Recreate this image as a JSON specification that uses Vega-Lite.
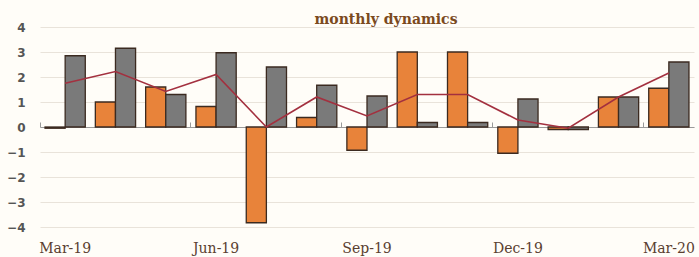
{
  "$schema": "https://vega.github.io/schema/vega-lite/v6.json",
  "autosize": {"type": "none"},
  "width": 654,
  "height": 200,
  "padding": {"left": 40, "top": 27, "right": 5, "bottom": 30},
  "background": "#fffdf8",
  "config": {"view": {"stroke": null}},
  "title": {
    "text": "monthly dynamics",
    "font": "DejaVu Serif",
    "fontSize": 14,
    "fontWeight": "bold",
    "color": "#7b4a1e",
    "anchor": "middle",
    "dx": 19,
    "offset": -6
  },
  "datasets": {
    "bars": [
      {"month": "Mar-19", "series": "A", "value": -0.05},
      {"month": "Mar-19", "series": "B", "value": 2.85},
      {"month": "Apr-19", "series": "A", "value": 1.0},
      {"month": "Apr-19", "series": "B", "value": 3.15},
      {"month": "May-19", "series": "A", "value": 1.6},
      {"month": "May-19", "series": "B", "value": 1.3},
      {"month": "Jun-19", "series": "A", "value": 0.82},
      {"month": "Jun-19", "series": "B", "value": 2.97},
      {"month": "Jul-19", "series": "A", "value": -3.83},
      {"month": "Jul-19", "series": "B", "value": 2.4},
      {"month": "Aug-19", "series": "A", "value": 0.38},
      {"month": "Aug-19", "series": "B", "value": 1.67},
      {"month": "Sep-19", "series": "A", "value": -0.93},
      {"month": "Sep-19", "series": "B", "value": 1.24},
      {"month": "Oct-19", "series": "A", "value": 3.0},
      {"month": "Oct-19", "series": "B", "value": 0.18},
      {"month": "Nov-19", "series": "A", "value": 3.0},
      {"month": "Nov-19", "series": "B", "value": 0.18},
      {"month": "Dec-19", "series": "A", "value": -1.05},
      {"month": "Dec-19", "series": "B", "value": 1.12},
      {"month": "Jan-20", "series": "A", "value": -0.1},
      {"month": "Jan-20", "series": "B", "value": -0.1},
      {"month": "Feb-20", "series": "A", "value": 1.2},
      {"month": "Feb-20", "series": "B", "value": 1.2},
      {"month": "Mar-20", "series": "A", "value": 1.55},
      {"month": "Mar-20", "series": "B", "value": 2.6}
    ],
    "line": [
      {"month": "Mar-19", "value": 1.75},
      {"month": "Apr-19", "value": 2.22},
      {"month": "May-19", "value": 1.42},
      {"month": "Jun-19", "value": 2.1},
      {"month": "Jul-19", "value": 0.0},
      {"month": "Aug-19", "value": 1.2},
      {"month": "Sep-19", "value": 0.44},
      {"month": "Oct-19", "value": 1.3},
      {"month": "Nov-19", "value": 1.3},
      {"month": "Dec-19", "value": 0.28},
      {"month": "Jan-20", "value": -0.05},
      {"month": "Feb-20", "value": 1.2},
      {"month": "Mar-20", "value": 2.16}
    ]
  },
  "resolve": {"axis": {"x": "independent"}},
  "layer": [
    {
      "data": {"name": "bars"},
      "mark": {"type": "bar", "stroke": "#3b2a20", "strokeWidth": 1.3},
      "encoding": {
        "x": {
          "field": "month", "type": "ordinal", "sort": null,
          "scale": {"paddingInner": 0.2, "paddingOuter": 0.1},
          "axis": {
            "title": null,
            "values": ["Mar-19", "Jun-19", "Sep-19", "Dec-19", "Mar-20"],
            "labelAngle": 0,
            "labelFont": "DejaVu Serif",
            "labelFontSize": 14,
            "labelColor": "#5a4030",
            "labelPadding": 14,
            "ticks": false,
            "domain": false,
            "grid": false
          }
        },
        "xOffset": {"field": "series", "type": "nominal"},
        "y": {
          "field": "value", "type": "quantitative",
          "scale": {"domain": [-4, 4], "nice": false},
          "axis": {
            "title": null,
            "values": [-4, -3, -2, -1, 0, 1, 2, 3, 4],
            "labelFont": "DejaVu Sans",
            "labelFontWeight": "bold",
            "labelFontSize": 12,
            "labelColor": "#555555",
            "labelPadding": 15,
            "ticks": false,
            "domain": false,
            "grid": true,
            "gridColor": "#e9e3da",
            "gridWidth": 1
          }
        },
        "color": {
          "field": "series", "type": "nominal",
          "scale": {"domain": ["A", "B"], "range": ["#e8833a", "#7a7a7a"]},
          "legend": null
        }
      }
    },
    {
      "data": {"name": "line"},
      "mark": {"type": "line", "color": "#a3303f", "strokeWidth": 1.6},
      "encoding": {
        "x": {
          "field": "month", "type": "ordinal", "sort": null,
          "axis": {
            "title": null,
            "values": ["Mar-19", "Jun-19", "Sep-19", "Dec-19", "Mar-20"],
            "labels": false,
            "offset": -100,
            "domain": true,
            "domainColor": "#9a9a9a",
            "domainWidth": 1,
            "ticks": true,
            "tickColor": "#9a9a9a",
            "tickSize": 5,
            "bandPosition": -0.125,
            "grid": false
          }
        },
        "y": {
          "field": "value", "type": "quantitative",
          "axis": {
            "title": null,
            "values": [-4, -3, -2, -1, 0, 1, 2, 3, 4],
            "labelFont": "DejaVu Sans",
            "labelFontWeight": "bold",
            "labelFontSize": 12,
            "labelColor": "#555555",
            "labelPadding": 15,
            "ticks": false,
            "domain": false,
            "grid": true,
            "gridColor": "#e9e3da",
            "gridWidth": 1
          }
        }
      }
    }
  ]
}
